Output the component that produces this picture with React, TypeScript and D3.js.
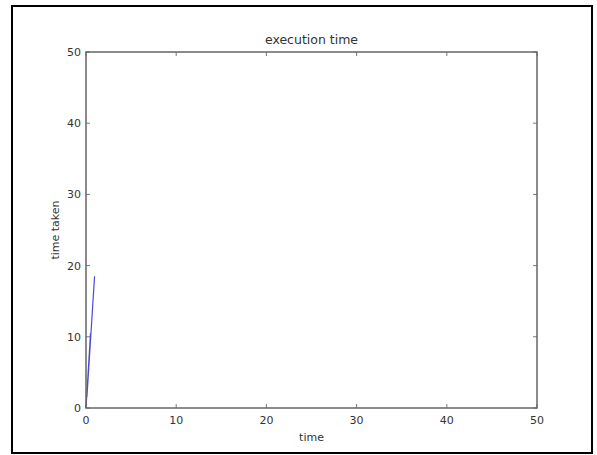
import React from "react";
import * as d3 from "d3";

// sampled run: time (x) vs time taken (y)
const timeValues = [0, 0.5, 0.1, 0.95];
const takenValues = [0, 10.5, 1.5, 18.5];
const xTicks = [0, 10, 20, 30, 40, 50];
const yTicks = [0, 10, 20, 30, 40, 50];
const chartTitle = "execution time";
const xLabel = "time";
const yLabel = "time taken";

const W = 597;
const H = 455;
const plot = { left: 86, top: 52, right: 537, bottom: 408 };

const App = () => {
  const x = d3.scaleLinear().domain([0, 50]).range([plot.left, plot.right]);
  const y = d3.scaleLinear().domain([0, 50]).range([plot.bottom, plot.top]);

  const pts: [number, number][] = timeValues.map((t, i) => [t, takenValues[i]]);
  const path = d3
    .line<[number, number]>()
    .x((d) => x(d[0]))
    .y((d) => y(d[1]))(pts);

  const font = "DejaVu Sans, sans-serif";
  const textColor = "#333";
  const tickLen = 4;

  return (
    <svg
      width={W}
      height={H}
      style={{ position: "absolute", left: 0, top: 0, background: "#fff" }}
    >
      <rect x={12} y={6} width={580} height={447} fill="#fff" stroke="#000" strokeWidth={2} />

      {/* ticks on all four sides, pointing inward */}
      {xTicks.map((t) => (
        <g key={"x" + t}>
          <line x1={x(t)} x2={x(t)} y1={plot.bottom} y2={plot.bottom - tickLen} stroke="#777" />
          <line x1={x(t)} x2={x(t)} y1={plot.top} y2={plot.top + tickLen} stroke="#777" />
          <text
            x={x(t)}
            y={plot.bottom + 16}
            textAnchor="middle"
            fontFamily={font}
            fontSize={11}
            fill={textColor}
          >
            {t}
          </text>
        </g>
      ))}
      {yTicks.map((t) => (
        <g key={"y" + t}>
          <line x1={plot.left} x2={plot.left + tickLen} y1={y(t)} y2={y(t)} stroke="#777" />
          <line x1={plot.right} x2={plot.right - tickLen} y1={y(t)} y2={y(t)} stroke="#777" />
          <text
            x={plot.left - 5}
            y={y(t) + 4}
            textAnchor="end"
            fontFamily={font}
            fontSize={11}
            fill={textColor}
          >
            {t}
          </text>
        </g>
      ))}

      <path d={path ?? ""} fill="none" stroke="#4a4ad8" strokeWidth={1.2} />

      <rect
        x={plot.left}
        y={plot.top}
        width={plot.right - plot.left}
        height={plot.bottom - plot.top}
        fill="none"
        stroke="#666"
        strokeWidth={1.5}
      />

      <text
        x={(plot.left + plot.right) / 2}
        y={plot.top - 8}
        textAnchor="middle"
        fontFamily={font}
        fontSize={12.5}
        fill={textColor}
      >
        {chartTitle}
      </text>
      <text
        x={(plot.left + plot.right) / 2}
        y={441}
        textAnchor="middle"
        fontFamily={font}
        fontSize={11}
        fill={textColor}
      >
        {xLabel}
      </text>
      <text
        transform={`translate(59, ${(plot.top + plot.bottom) / 2}) rotate(-90)`}
        textAnchor="middle"
        fontFamily={font}
        fontSize={11}
        fill={textColor}
      >
        {yLabel}
      </text>
    </svg>
  );
};

export default App;
